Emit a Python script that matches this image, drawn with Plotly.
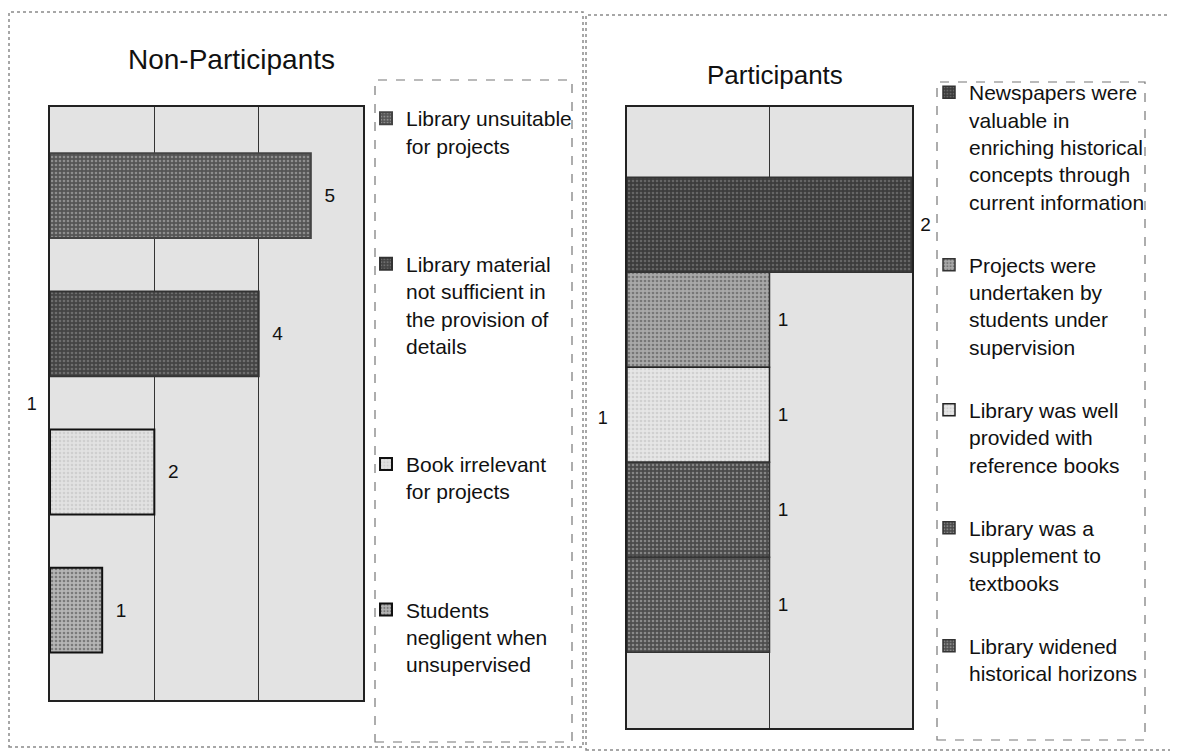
import plotly.graph_objects as go

# ---------------- data ----------------
categories = ["1"]

np_title = "Non-Participants"
np_labels = [
    "Library unsuitable<br>for projects",
    "Library material<br>not sufficient in<br>the provision of<br>details",
    "Book irrelevant<br>for projects",
    "Students<br>negligent when<br>unsupervised",
]
np_values = [5, 4, 2, 1]

p_title = "Participants"
p_labels = [
    "Newspapers were<br>valuable in<br>enriching historical<br>concepts through<br>current information",
    "Projects were<br>undertaken by<br>students under<br>supervision",
    "Library was well<br>provided with<br>reference books",
    "Library was a<br>supplement to<br>textbooks",
    "Library widened<br>historical horizons",
]
p_values = [2, 1, 1, 1, 1]

# ---------------- styles ----------------
FONT = "Liberation Sans, Arial, sans-serif"
np_colors = ["#555555", "#444444", "#e2e2e2", "#b5b5b5"]
np_dots = ["#8e8e8e", "#6e6e6e", "#cfcfcf", "#7a7a7a"]
np_lines = ["#444444", "#333333", "#111111", "#111111"]
p_colors = ["#3c3c3c", "#a9a9a9", "#e6e6e6", "#4a4a4a", "#4e4e4e"]
p_dots = ["#666666", "#777777", "#d0d0d0", "#858585", "#8a8a8a"]
p_lines = ["#333333", "#333333", "#222222", "#333333", "#333333"]

np_bar_w, np_slot, np_start = 0.143, 0.233, -0.422
p_bar_w, p_start = 0.153, -0.387

# page body has an 8px margin; figure sized to fit the window
OFF = 8
W, H = 1178 - OFF, 755 - OFF
def px(x):
    return (x - OFF) / W
def py(y):
    return 1 - (y - OFF) / H

fig = go.Figure()

for i, (lab, val) in enumerate(zip(np_labels, np_values)):
    fig.add_trace(go.Bar(
        x=[val], y=categories, orientation="h", name=lab,
        xaxis="x", yaxis="y", legend="legend", legendgroup=f"np{i}",
        width=np_bar_w, offset=np_start + i * np_slot,
        marker=dict(color=np_colors[i],
                    line=dict(color=np_lines[i], width=2),
                    pattern=dict(shape=".", size=4, solidity=0.35,
                                 fgcolor=np_dots[i], bgcolor=np_colors[i],
                                 fillmode="replace")),
        texttemplate="\u00a0\u00a0%{x}", textposition="outside", cliponaxis=False,
        textfont=dict(size=19, color="#111111", family=FONT),
    ))

for i, (lab, val) in enumerate(zip(p_labels, p_values)):
    fig.add_trace(go.Bar(
        x=[val], y=categories, orientation="h", name=lab,
        xaxis="x2", yaxis="y2", legend="legend2", legendgroup=f"p{i}",
        width=p_bar_w, offset=p_start + i * p_bar_w,
        marker=dict(color=p_colors[i],
                    line=dict(color=p_lines[i], width=1.5),
                    pattern=dict(shape=".", size=4, solidity=0.35,
                                 fgcolor=p_dots[i], bgcolor=p_colors[i],
                                 fillmode="replace")),
        texttemplate="\u00a0%{x}", textposition="outside", cliponaxis=False,
        textfont=dict(size=19, color="#111111", family=FONT),
    ))

axis_common = dict(showline=True, mirror=True, linecolor="#222222", linewidth=1.5,
                   zeroline=False, ticks="")

fig.update_layout(
    width=W, height=H,
    margin=dict(l=0, r=0, t=0, b=0),
    paper_bgcolor="white", plot_bgcolor="#e3e3e3",
    barmode="overlay",
    font=dict(family=FONT, color="#111111"),
    xaxis=dict(domain=[px(50), px(363)], anchor="y", range=[0, 6], dtick=2,
               showgrid=True, gridcolor="#333333", gridwidth=1.2,
               showticklabels=False, **axis_common),
    yaxis=dict(domain=[py(700), py(107)], anchor="x", type="category",
               range=[0.5, -0.5], showgrid=False, ticklabelstandoff=8,
               tickfont=dict(size=18), **axis_common),
    xaxis2=dict(domain=[px(627), px(912)], anchor="y2", range=[0, 2], dtick=1,
                showgrid=True, gridcolor="#333333", gridwidth=1.2,
                showticklabels=False, **axis_common),
    yaxis2=dict(domain=[py(728), py(107)], anchor="x2", type="category",
                range=[0.5, -0.5], showgrid=False, ticklabelstandoff=14,
                tickfont=dict(size=18), **axis_common),
    legend=dict(x=px(366), y=py(98), xanchor="left", yanchor="top",
                bgcolor="rgba(0,0,0,0)", traceorder="grouped", valign="top",
                tracegroupgap=88, font=dict(size=21, family=FONT)),
    legend2=dict(x=px(929), y=py(72), xanchor="left", yanchor="top",
                 bgcolor="rgba(0,0,0,0)", traceorder="grouped", valign="top",
                 tracegroupgap=33, font=dict(size=21, family=FONT)),
    annotations=[
        dict(text=np_title, x=px(231), y=py(60), xref="paper", yref="paper",
             xanchor="center", yanchor="middle",
             showarrow=False, font=dict(size=28, family=FONT)),
        dict(text=p_title, x=px(775), y=py(75), xref="paper", yref="paper",
             xanchor="center", yanchor="middle",
             showarrow=False, font=dict(size=26, family=FONT)),
    ],
    shapes=[
        # panel frames
        dict(type="rect", xref="paper", yref="paper", x0=px(9), x1=px(583),
             y0=py(747), y1=py(12), line=dict(color="#8a8a8a", width=1.5, dash="dot"),
             layer="below"),
        dict(type="rect", xref="paper", yref="paper", x0=px(586), x1=px(1172),
             y0=py(750), y1=py(15), line=dict(color="#8a8a8a", width=1.5, dash="dot"),
             layer="below"),
        # legend boxes
        dict(type="rect", xref="paper", yref="paper", x0=px(375), x1=px(572),
             y0=py(742), y1=py(80), line=dict(color="#777777", width=1.2, dash="dash"),
             fillcolor="white", layer="below"),
        dict(type="rect", xref="paper", yref="paper", x0=px(937), x1=px(1145),
             y0=py(740), y1=py(82), line=dict(color="#777777", width=1.2, dash="dash"),
             fillcolor="white", layer="below"),
    ],
)

fig.write_html("out.html")
